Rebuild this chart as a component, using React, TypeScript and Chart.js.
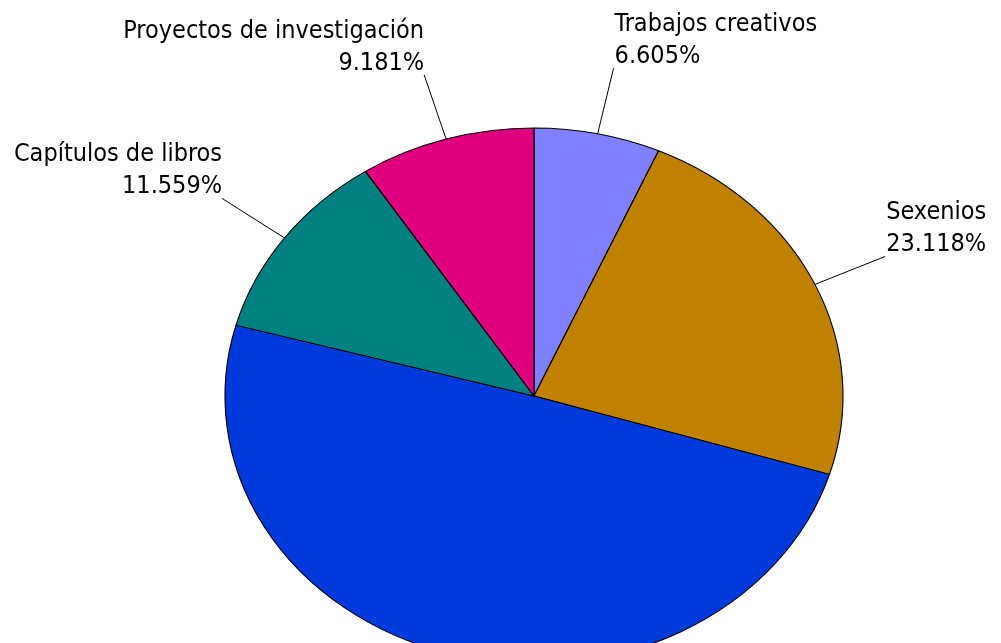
import React, { useEffect, useRef } from "react";
import { Chart, registerables } from "chart.js";

Chart.register(...registerables);

const categories = [
  "Trabajos creativos",
  "Sexenios",
  "Artículos",
  "Capítulos de libros",
  "Proyectos de investigación",
];
const percentages = [6.605, 23.118, 49.537, 11.559, 9.181];
const colors = ["#8080FF", "#C08000", "#003ADC", "#008080", "#E0007E"];

const SCALE_X = 309 / 268;
const FONT = '25px "DejaVu Sans Condensed", "Liberation Sans", sans-serif';

const ellipsePlugin = {
  id: "ellipse",
  beforeDatasetsDraw(chart: any) {
    const arc = chart.getDatasetMeta(0).data[0];
    const ctx = chart.ctx;
    ctx.save();
    ctx.translate(arc.x, 0);
    ctx.scale(SCALE_X, 1);
    ctx.translate(-arc.x, 0);
  },
  afterDatasetsDraw(chart: any) {
    chart.ctx.restore();
  },
};

const labelPlugin = {
  id: "pieLabels",
  afterDraw(chart: any) {
    const ctx = chart.ctx;
    const meta = chart.getDatasetMeta(0);
    ctx.save();
    ctx.font = FONT;
    ctx.fillStyle = "#000";
    ctx.strokeStyle = "#000";
    ctx.lineWidth = 1;
    meta.data.forEach((arc: any, i: number) => {
      const mid = (arc.startAngle + arc.endAngle) / 2;
      const r = arc.outerRadius;
      const cx = arc.x;
      const cy = arc.y;
      const ex = cx + r * Math.cos(mid) * SCALE_X;
      const ey = cy + r * Math.sin(mid);
      const lx = cx + 1.25 * (ex - cx);
      const ly = cy + 1.25 * (ey - cy);
      ctx.beginPath();
      ctx.moveTo(lx, ly);
      ctx.lineTo(ex, ey);
      ctx.stroke();
      const right = ex < cx;
      ctx.textAlign = right ? "right" : "left";
      ctx.textBaseline = "alphabetic";
      const tx = right ? lx : lx + 1;
      const b2 = ly - 5;
      ctx.fillText(categories[i], tx, b2 - 32);
      ctx.fillText(percentages[i].toFixed(3) + "%", tx, b2);
    });
    ctx.restore();
  },
};

export default function App() {
  const ref = useRef<HTMLCanvasElement>(null);
  useEffect(() => {
    if (!ref.current) return;
    const chart = new Chart(ref.current, {
      type: "pie",
      data: {
        labels: categories,
        datasets: [
          {
            data: percentages,
            backgroundColor: colors,
            borderColor: "#000",
            borderWidth: 1,
          },
        ],
      },
      options: {
        responsive: false,
        animation: false,
        devicePixelRatio: 1,
        radius: 268,
        layout: { padding: { top: 128, bottom: 136, left: 100, right: 33 } },
        plugins: {
          legend: { display: false },
          tooltip: { enabled: false },
        },
      },
      plugins: [ellipsePlugin, labelPlugin],
    } as any);
    return () => chart.destroy();
  }, []);
  return (
    <div
      style={{
        position: "absolute",
        left: 0,
        top: 0,
        width: 1001,
        height: 643,
        overflow: "hidden",
        background: "#fff",
      }}
    >
      <canvas ref={ref} width={1001} height={800} style={{ display: "block" }} />
    </div>
  );
}
